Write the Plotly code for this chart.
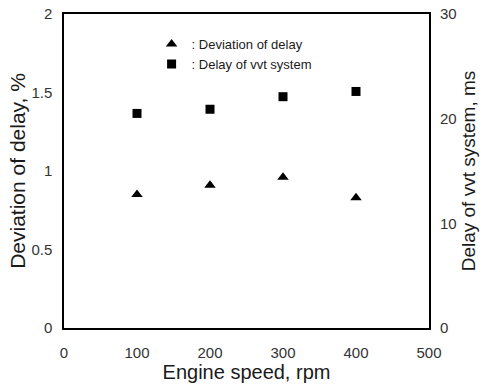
import plotly.graph_objects as go

engine_speed = [100, 200, 300, 400]
deviation_of_delay = [0.85, 0.91, 0.96, 0.83]
delay_vvt_ms = [20.5, 20.9, 22.1, 22.6]

x_ticks = [0, 100, 200, 300, 400, 500]
y_left_ticks = [0, 0.5, 1, 1.5, 2]
y_left_labels = ["0", "0.5", "1", "1.5", "2"]
y_right_ticks = [0, 10, 20, 30]

FONT = "Liberation Sans, Arial, sans-serif"

fig = go.Figure()
fig.add_trace(go.Scatter(
    x=engine_speed, y=deviation_of_delay, mode="markers",
    name=": Deviation of delay",
    marker=dict(symbol="triangle-up", size=10, color="black"),
))
fig.add_trace(go.Scatter(
    x=engine_speed, y=delay_vvt_ms, mode="markers",
    name=": Delay of vvt system", yaxis="y2",
    marker=dict(symbol="square", size=9, color="black"),
))

fig.update_layout(
    width=483, height=386,
    margin=dict(l=64, r=54, t=14, b=58, autoexpand=False),
    paper_bgcolor="white", plot_bgcolor="white",
    font=dict(family=FONT, color="#1a1a1a", size=15),
    showlegend=True,
    legend=dict(
        x=0.24, y=0.952, xanchor="left", yanchor="top",
        bgcolor="rgba(0,0,0,0)", borderwidth=0,
        font=dict(size=13, color="#1a1a1a"),
        itemwidth=30, tracegroupgap=2,
    ),
    xaxis=dict(
        range=[0, 500], tickvals=x_ticks, ticktext=[str(v) for v in x_ticks],
        showgrid=False, zeroline=False, showline=True, linecolor="black",
        linewidth=1.5, mirror=True, ticks="", ticklabelstandoff=10,
        title=dict(text="Engine speed, rpm", font=dict(size=20), standoff=5),
        tickfont=dict(size=15, color="#333"),
    ),
    yaxis=dict(
        range=[0, 2], tickvals=y_left_ticks, ticktext=y_left_labels,
        showgrid=False, zeroline=False, showline=True, linecolor="black",
        linewidth=1.5, mirror=True, ticks="", ticklabelstandoff=7,
        title=dict(text="Deviation of delay, %", font=dict(size=21), standoff=0),
        tickfont=dict(size=15, color="#333"),
    ),
    yaxis2=dict(
        range=[0, 30], tickvals=y_right_ticks, ticktext=[str(v) for v in y_right_ticks],
        overlaying="y", side="right", showgrid=False, zeroline=False,
        showline=False, ticks="", ticklabelstandoff=10,
        title=dict(text="Delay of vvt system, ms", font=dict(size=19), standoff=6),
        tickfont=dict(size=15, color="#333"),
    ),
)

fig.write_html("out.html")
